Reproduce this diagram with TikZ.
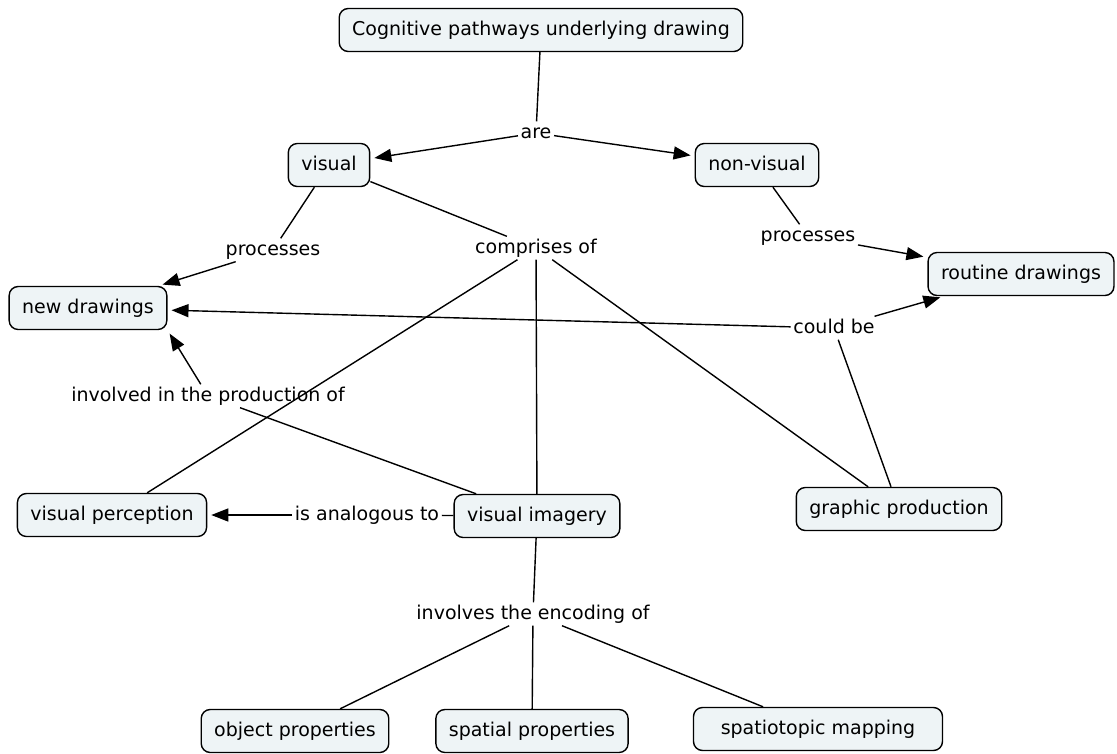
\documentclass[tikz,border=0pt]{standalone}
\usepackage{fontspec}
\setmainfont{DejaVu Sans}
\usetikzlibrary{arrows.meta,positioning}
\definecolor{conceptfill}{RGB}{238,244,246}

\begin{document}
\begin{tikzpicture}[x=1pt,y=-1pt,line width=1.4pt,
    concept/.style={draw,fill=conceptfill,rounded corners=9pt,minimum height=43pt,inner xsep=13pt,
        text height=14pt,text depth=4pt,font=\fontsize{19}{22}\selectfont},
    phrase/.style={inner sep=2pt,text height=14pt,text depth=4pt,font=\fontsize{19}{22}\selectfont},
    to/.style={-{Triangle[length=17pt,width=13pt]},shorten >=4pt}]
        \useasboundingbox (0,0) rectangle (1117,753);

        \node[concept] (cog) at (541,30) {Cognitive pathways underlying drawing};
        \node[concept] (vis) at (329,165) {visual};
        \node[concept] (nonvis) at (757,165) {non-visual};
        \node[concept] (new) at (88,308) {new drawings};
        \node[concept] (routine) at (1021,274) {routine drawings};
        \node[concept] (perc) at (112,515) {visual perception};
        \node[concept] (imag) at (537,516) {visual imagery};
        \node[concept] (graph) at (899,509) {graphic production};
        \node[concept] (obj) at (295,731) {object properties};
        \node[concept] (spat) at (532,731) {spatial properties};
        \node[concept,minimum width=249pt] (topo) at (818,729) {spatiotopic mapping};

        \node[phrase] (are) at (536,133) {are};
        \node[phrase] (procl) at (273,250) {processes};
        \node[phrase] (comp) at (536,248) {comprises of};
        \node[phrase] (procr) at (808,236) {processes};
        \node[phrase] (could) at (834,328) {could be};
        \node[phrase] (invol) at (208,396) {involved in the production of};
        \node[phrase] (anal) at (367,515) {is analogous to};
        \node[phrase] (enc) at (533,614) {involves the encoding of};

        \draw (cog) -- (are);
        \draw[to] (are) -- (vis);
        \draw[to] (are) -- (nonvis);
        \draw (vis) -- (procl);
        \draw[to] (procl) -- (new);
        \draw (vis) -- (comp);
        \draw (comp) -- (perc);
        \draw (comp) -- (imag);
        \draw (comp) -- (graph);
        \draw (nonvis) -- (procr);
        \draw[to] (procr) -- (routine);
        \draw (graph) -- (could);
        \draw[to] (could) -- (new);
        \draw[to] (could) -- (routine);
        \draw (imag) -- (invol);
        \draw[to] (invol) -- (new.south east);
        \draw (imag) -- (anal);
        \draw[to] (anal) -- (perc);
        \draw (imag) -- (enc);
        \draw (enc) -- (obj);
        \draw (enc) -- (spat);
        \draw (enc) -- (topo);
    \end{tikzpicture}
\end{document}
